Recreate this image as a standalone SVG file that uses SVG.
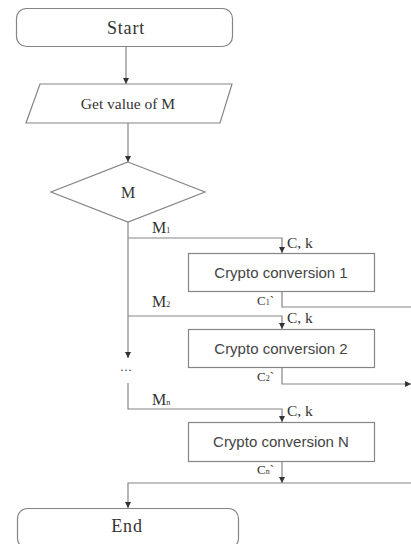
<svg xmlns="http://www.w3.org/2000/svg" width="411" height="544" viewBox="0 0 411 544">
  <style>
    .shape { fill: #ffffff; stroke: #858585; stroke-width: 1.2; }
    .wire { fill: none; stroke: #858585; stroke-width: 1.2; }
    .serif { font-family: "Liberation Serif", "Times New Roman", serif; fill: #333333; }
    .sans { font-family: "Liberation Sans", Arial, sans-serif; fill: #444444; font-size: 15px; }
    .sub { font-size: 8px; }
  </style>
  <defs>
    <marker id="arrow" viewBox="0 0 6 6" refX="6" refY="3" markerWidth="6" markerHeight="6" orient="auto" markerUnits="userSpaceOnUse">
      <path d="M0,0 L6,3 L0,6 Z" fill="#333333"/>
    </marker>
  </defs>

  <!-- flow lines -->
  <g id="connectors">
    <path class="wire" d="M126,47 V84" marker-end="url(#arrow)"/>
    <path class="wire" d="M128,123 V162" marker-end="url(#arrow)"/>
    <!-- decision trunk -->
    <path class="wire" d="M128,222 V358" marker-end="url(#arrow)"/>
    <path class="wire" d="M128,383 V409 H282 V422" marker-end="url(#arrow)"/>
    <!-- branches into each conversion -->
    <path class="wire" d="M128,238 H282 V253" marker-end="url(#arrow)"/>
    <path class="wire" d="M128,316 H282 V329" marker-end="url(#arrow)"/>
    <!-- outputs -->
    <path class="wire" d="M282,292 V307 H411"/>
    <path class="wire" d="M282,368 V384 H411" marker-end="url(#arrow)"/>
    <path class="wire" d="M282,462 V483" marker-end="url(#arrow)"/>
    <path class="wire" d="M411,483 H128 V508" marker-end="url(#arrow)"/>
  </g>

  <g id="start">
    <rect class="shape" x="16.5" y="8.5" width="216" height="38" rx="10"/>
    <text class="serif" x="126" y="34" font-size="18" letter-spacing="0.8" text-anchor="middle">Start</text>
  </g>

  <g id="input-m">
    <polygon class="shape" points="40,84 232,84 220,123 26,123"/>
    <text class="serif" x="128" y="109" font-size="15.5" text-anchor="middle">Get value of M</text>
  </g>

  <g id="decision-m">
    <polygon class="shape" points="128,162 205,192 128,222 51,192"/>
    <text class="serif" x="128" y="198" font-size="16" text-anchor="middle">M</text>
  </g>

  <g id="crypto-1">
    <rect class="shape" x="188.5" y="253.5" width="186" height="38"/>
    <text class="sans" x="281" y="278" text-anchor="middle">Crypto conversion 1</text>
  </g>

  <g id="crypto-2">
    <rect class="shape" x="188.5" y="329.5" width="186" height="38"/>
    <text class="sans" x="281" y="354" text-anchor="middle">Crypto conversion 2</text>
  </g>

  <g id="crypto-n">
    <rect class="shape" x="188.5" y="422.5" width="186" height="39"/>
    <text class="sans" x="281" y="447" text-anchor="middle">Crypto conversion N</text>
  </g>

  <g id="end">
    <rect class="shape" x="17.5" y="508.5" width="221" height="40" rx="10"/>
    <text class="serif" x="127" y="532" font-size="18" letter-spacing="0.8" text-anchor="middle">End</text>
  </g>

  <!-- branch and data labels -->
  <g id="labels">
    <text class="serif" x="152" y="233" font-size="16">M<tspan class="sub">1</tspan></text>
    <text class="serif" x="152" y="307" font-size="16">M<tspan class="sub">2</tspan></text>
    <text class="serif" x="152" y="405" font-size="16">M<tspan class="sub">n</tspan></text>
    <text class="serif" x="120" y="374" font-size="12">···</text>
    <text class="serif" x="287" y="248" font-size="15.5">C, k</text>
    <text class="serif" x="287" y="323" font-size="15.5">C, k</text>
    <text class="serif" x="287" y="416" font-size="15.5">C, k</text>
    <text class="serif" x="257" y="305" font-size="13">C<tspan class="sub">1</tspan>`</text>
    <text class="serif" x="257" y="381" font-size="13">C<tspan class="sub">2</tspan>`</text>
    <text class="serif" x="257" y="474" font-size="13">C<tspan class="sub">n</tspan>`</text>
  </g>
</svg>
